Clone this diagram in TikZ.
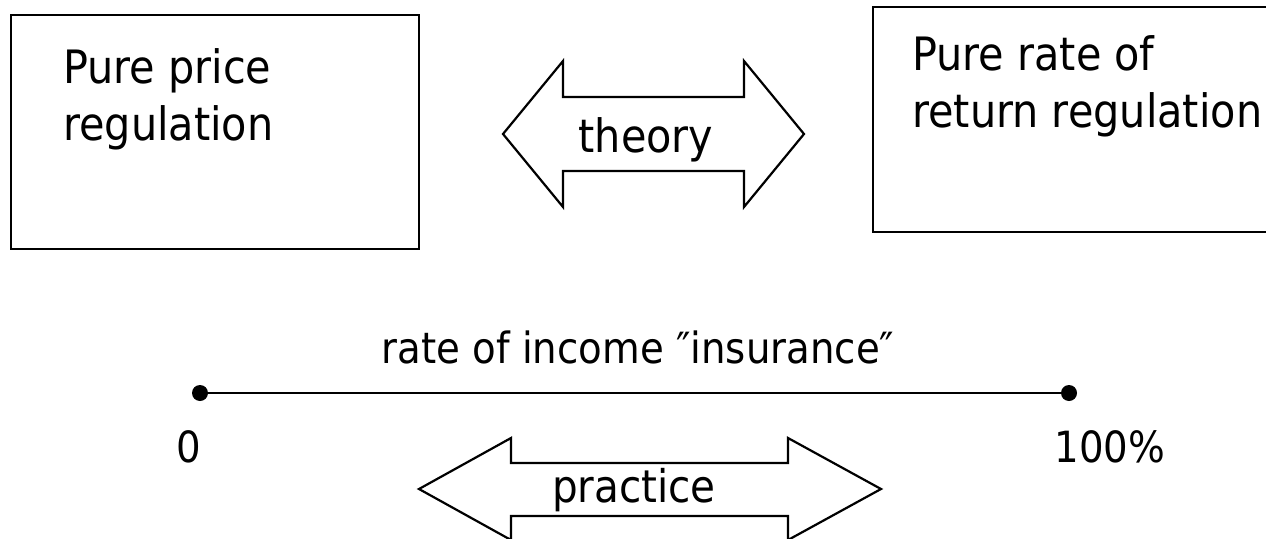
\documentclass[tikz,border=0pt]{standalone}
\usepackage{fontspec}
\setmainfont{DejaVu Sans}[FakeStretch=0.9]
\begin{document}
\begin{tikzpicture}[x=1pt,y=-1pt,
  box/.style={draw, line width=2.2pt},
  txt/.style={anchor=base west, inner sep=0pt, align=left, font=\fontsize{46}{57}\selectfont},
  ctxt/.style={anchor=base, inner sep=0pt, font=\fontsize{45}{54}\selectfont},
  dbl/.style={draw, line width=2.2pt, line join=miter, fill=white},
  dot/.style={circle, fill=black, inner sep=0pt, minimum size=16pt}]
\useasboundingbox (0,0) rectangle (1266,538);
% left box
\draw[box] (11,15) rectangle (419,249);
\node[txt] (lt) at (63,140) {Pure price\\regulation};
% right box
\begin{scope}
\clip (0,0) rectangle (1266,538);
\draw[box] (873,7) rectangle (1280,232);
\end{scope}
\node[txt] (rt) at (912,127) {Pure rate of\\return regulation};
% theory arrow
\draw[dbl] (503,134) -- (563,61) -- (563,97) -- (744,97) -- (744,61) -- (804,134)
  -- (744,207) -- (744,171) -- (563,171) -- (563,207) -- cycle;
\node[ctxt, font=\fontsize{46}{56}\selectfont] (theory) at (646,152) {theory};
% scale line
\node[dot] (d0) at (200,393) {};
\node[dot] (d1) at (1069,393) {};
\draw[line width=2.2pt] (d0.center) -- (d1.center);
\node[ctxt, font=\fontsize{43}{52}\selectfont] (title) at (638,363) {rate of income ″insurance″};
\node[ctxt, font=\fontsize{43}{52}\selectfont] (zero) at (189,462) {0};
\node[ctxt, font=\fontsize{43}{52}\selectfont] (hundred) at (1110,462) {100\%};
% practice arrow
\begin{scope}
\clip (0,0) rectangle (1266,538);
\draw[dbl] (419,489) -- (511,438) -- (511,463) -- (788,463) -- (788,438) -- (881,489)
  -- (788,540) -- (788,516) -- (511,516) -- (511,540) -- cycle;
\end{scope}
\node[ctxt] (practice) at (634,502) {practice};
\end{tikzpicture}
\end{document}
